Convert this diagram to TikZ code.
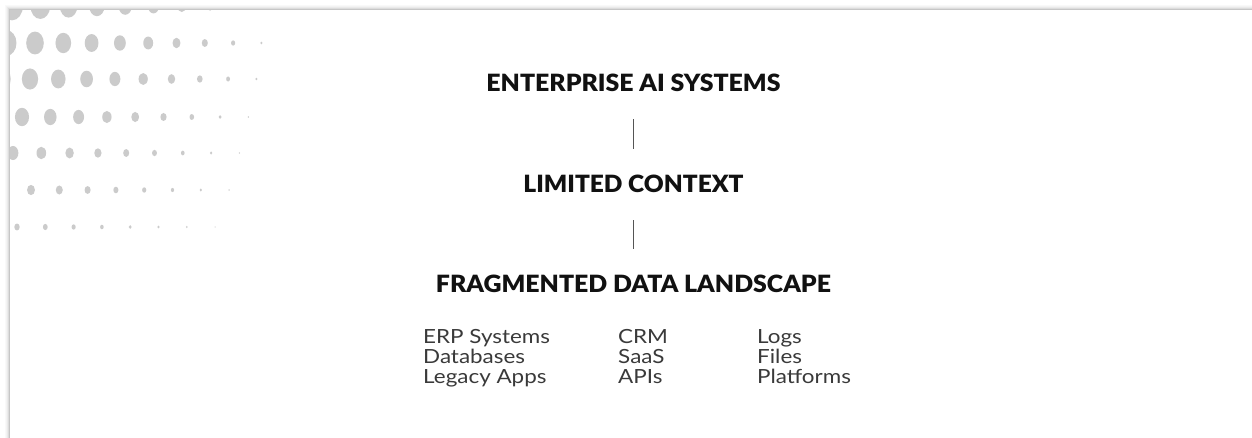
\documentclass[tikz,border=0pt]{standalone}
\usepackage{fontspec}
\usepackage{graphicx}
\setmainfont{Lato}
\newfontfamily\headfont{Lato}[UprightFont=* Black]
\newfontfamily\bodyfont{Lato}
\newcommand{\bt}[1]{\scalebox{1.15}[1]{#1}}
\definecolor{dotgray}{HTML}{CBCBCB}
\definecolor{bordergray}{HTML}{C6C6C6}
\definecolor{headcol}{HTML}{111111}
\definecolor{bodycol}{HTML}{3A3A3A}
\definecolor{linecol}{HTML}{555555}
\tikzset{
  heading/.style={inner sep=0pt, text=headcol},
  bodytext/.style={inner sep=0pt, anchor=base west, text=bodycol, font=\bodyfont\fontsize{19.5pt}{20pt}\selectfont},
  conn/.style={draw=linecol, line width=0.9pt}
}
\begin{document}
\begin{tikzpicture}[x=1pt,y=-1pt]
\useasboundingbox (0,0) rectangle (1252,438);
\fill[white] (0,0) rectangle (1252,438);
% soft shadow of the panel
\foreach \i/\o in {1/0.30,2/0.18,3/0.10,4/0.05} {
  \draw[black!45, opacity=\o, line width=1pt] (9-\i,438) -- (9-\i,10-\i) -- (1252,10-\i);
}
% dot pattern (slightly tall ellipses)
\begin{scope}
  \clip (9.5,10.5) rectangle (1252,438);
  \foreach \yy/\xo/\aa/\bb in {6.2/12/21/0.07, 43/6.7/18.5/0.063, 79/1.7/16.8/0.058, 117/-6.3/14.2/0.052, 153/-15.3/10.5/0.039, 190/-25.6/8.2/0.030, 227/-39.6/5.3/0.020} {
    \foreach \k in {0,...,11} {
      \pgfmathsetmacro\xx{\xo+28.3*\k}
      \pgfmathsetmacro\rr{1.08*(\aa-\bb*\xx)/2}
      \pgfmathsetmacro\ry{1.3*\rr}
      \pgfmathparse{\rr>0.45 ? 1 : 0}
      \ifnum\pgfmathresult=1
        \fill[dotgray] (\xx,\yy) ellipse[x radius=\rr pt, y radius=\ry pt];
      \fi
    }
  }
\end{scope}
% panel border
\draw[bordergray, line width=1pt] (9,438) -- (9,10) -- (1252,10);
% headings
\node[heading] (ent) at (633.5,82.5) {\resizebox{294pt}{17.5pt}{\headfont ENTERPRISE AI SYSTEMS}};
\node[heading] (lim) at (633.5,183.5) {\resizebox{220pt}{17.5pt}{\headfont LIMITED CONTEXT}};
\node[heading] (frag) at (633.5,283.5) {\resizebox{395pt}{17.5pt}{\headfont FRAGMENTED DATA LANDSCAPE}};
% connectors
\draw[conn, shorten <=27.5pt, shorten >=25.5pt] (ent) -- (lim);
\draw[conn, shorten <=27.5pt, shorten >=25.5pt] (lim) -- (frag);
% data sources
\node[bodytext] (a1) at (423,343) {\bt{ERP Systems}};
\node[bodytext] (a2) at (423,363) {\bt{Databases}};
\node[bodytext] (a3) at (423,383) {\bt{Legacy Apps}};
\node[bodytext] (b1) at (618,343) {\bt{CRM}};
\node[bodytext] (b2) at (618,363) {\bt{SaaS}};
\node[bodytext] (b3) at (618,383) {\bt{APIs}};
\node[bodytext] (c1) at (757,343) {\bt{Logs}};
\node[bodytext] (c2) at (757,363) {\bt{Files}};
\node[bodytext] (c3) at (757,383) {\bt{Platforms}};
\end{tikzpicture}
\end{document}
